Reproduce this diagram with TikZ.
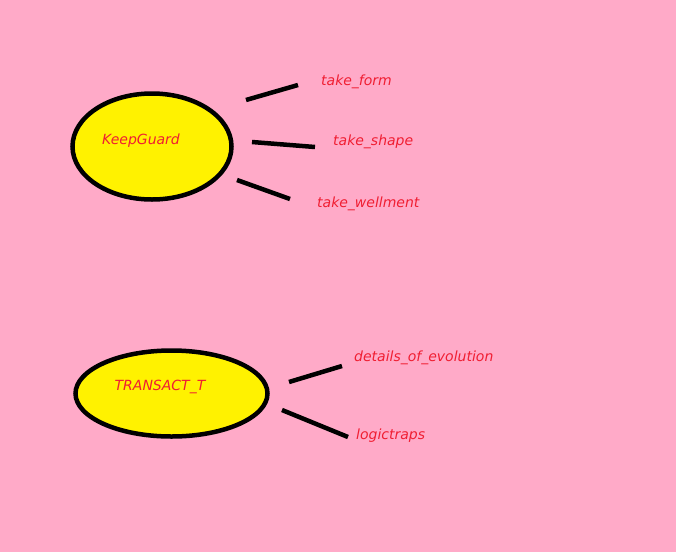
\documentclass[tikz,border=0pt]{standalone}
\usepackage{fontspec}
\setmainfont{DejaVu Sans}
\usepackage{xcolor}
\usetikzlibrary{shapes.geometric, positioning}
\definecolor{bgpink}{RGB}{255,170,200}
\definecolor{eggyellow}{RGB}{255,242,0}
\definecolor{labelred}{RGB}{240,30,50}
\begin{document}
\begin{tikzpicture}[x=1pt, y=-1pt,
    every node/.style={font=\fontsize{14}{16}\selectfont\itshape, text=labelred},
    blob/.style={ellipse, draw=black, line width=4.5pt, fill=eggyellow, inner sep=0pt},
    stroke/.style={line width=4.5pt, black}]
    % Background
    \fill[bgpink] (0,0) rectangle (676,552);
    \useasboundingbox (0,0) rectangle (676,552);

    % Ellipses
    \node[blob, minimum width=159pt, minimum height=106pt] (keep) at (152,146.5) {};
    \node[blob, minimum width=192pt, minimum height=86pt] (trans) at (171.5,393.5) {};
    \node (keeplbl) at (141,141) {KeepGuard};
    \node (translbl) at (160,387) {TRANSACT\_T};

    % Labels
    \node[right, inner sep=0pt] (form) at (321,82) {take\_form};
    \node[right, inner sep=0pt] (shape) at (333,142) {take\_shape};
    \node[right, inner sep=0pt] (well) at (317,204) {take\_wellment};
    \node[right, inner sep=0pt] (evol) at (354,358) {details\_of\_evolution};
    \node[right, inner sep=0pt] (traps) at (356,436) {logictraps};

    % Stroke ends
    \coordinate (k1) at (246,100); \coordinate (f1) at (298,85);
    \coordinate (k2) at (252,142); \coordinate (s1) at (315,147);
    \coordinate (k3) at (237,180); \coordinate (w1) at (290,199);
    \coordinate (t1) at (289,382); \coordinate (e1) at (342,366);
    \coordinate (t2) at (282,410); \coordinate (l1) at (348,437);

    % Strokes
    \draw[stroke] (k1) -- (f1);
    \draw[stroke] (k2) -- (s1);
    \draw[stroke] (k3) -- (w1);
    \draw[stroke] (t1) -- (e1);
    \draw[stroke] (t2) -- (l1);
\end{tikzpicture}
\end{document}
